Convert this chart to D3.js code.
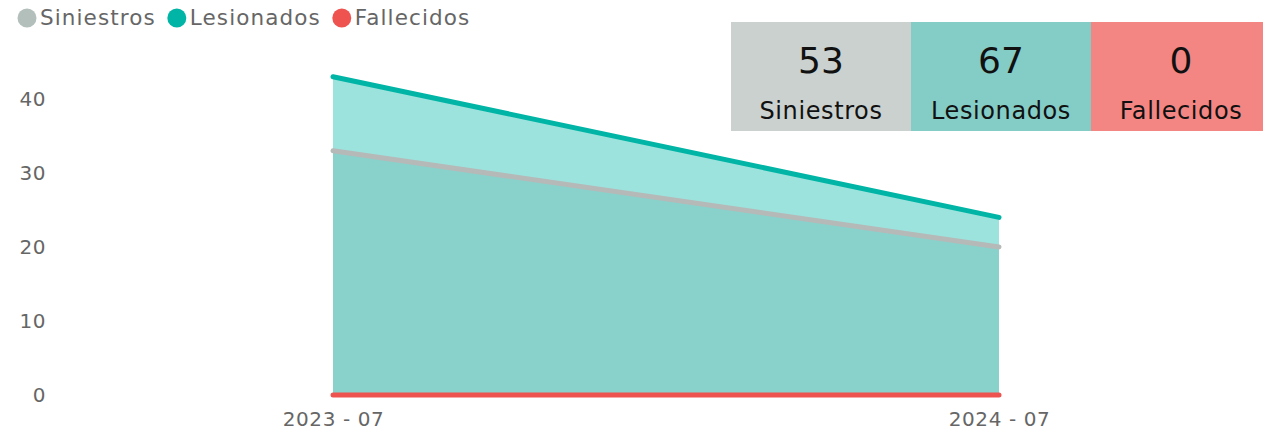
<!DOCTYPE html>
<html>
<head>
<meta charset="utf-8">
<script src="https://cdn.jsdelivr.net/npm/d3@7"></script>
<style>
  body { margin: 0; background: #fff; }
  svg { display: block; font-family: "DejaVu Sans", sans-serif; }
</style>
</head>
<body>
<svg id="chart" width="1263" height="434"></svg>
<script>
const periods = ['2023 - 07', '2024 - 07'];
const siniestros = [33, 20];
const lesionados = [43, 24];
const fallecidos = [0, 0];
const yTicks = [0, 10, 20, 30, 40];
const totals = [53, 67, 0];
const names = ['Siniestros', 'Lesionados', 'Fallecidos'];

const legendColors = ['#b3bfbb', '#00b5a5', '#ef5350'];
const cardColors = ['#cbd1cf', '#84ccc6', '#f38683'];

const svg = d3.select('#chart');

const x = d3.scalePoint().domain(periods).range([333, 999]);
const y = d3.scaleLinear().domain([0, 40]).range([395, 99]);

// y axis labels
const yAxis = svg.append('g')
  .attr('transform', 'translate(46,0)')
  .call(d3.axisLeft(y).tickValues(yTicks).tickSize(0).tickPadding(0));
yAxis.select('.domain').remove();
yAxis.selectAll('text')
  .attr('fill', '#666')
  .style('font-size', '20px')
  .style('letter-spacing', '0.5px')
  .style('font-family', '"DejaVu Sans", sans-serif');

// x axis labels
const xAxis = svg.append('g')
  .attr('transform', 'translate(0,408)')
  .call(d3.axisBottom(x).tickSize(0).tickPadding(0));
xAxis.select('.domain').remove();
xAxis.selectAll('text')
  .attr('fill', '#666')
  .attr('dy', '0.9em')
  .style('font-size', '20px')
  .style('letter-spacing', '0.6px')
  .style('font-family', '"DejaVu Sans", sans-serif');

const area = (vals) => d3.area()
  .x((d, i) => x(periods[i]))
  .y0(y(0))
  .y1((d) => y(d))(vals);

const line = (vals) => d3.line()
  .x((d, i) => x(periods[i]))
  .y((d) => y(d))(vals);

svg.append('path').attr('d', area(lesionados)).attr('fill', '#9de3dd');
svg.append('path').attr('d', area(siniestros)).attr('fill', '#89d2cb');

svg.append('path').attr('d', line(siniestros))
  .attr('fill', 'none').attr('stroke', '#b5b9b8').attr('stroke-width', 5).attr('stroke-linecap', 'round');
svg.append('path').attr('d', line(lesionados))
  .attr('fill', 'none').attr('stroke', '#00b5a5').attr('stroke-width', 5).attr('stroke-linecap', 'round');
svg.append('path').attr('d', line(fallecidos))
  .attr('fill', 'none').attr('stroke', '#ef5350').attr('stroke-width', 5).attr('stroke-linecap', 'round');

// legend
let lx = 27;
names.forEach((n, i) => {
  svg.append('circle').attr('cx', lx).attr('cy', 18).attr('r', 9.5).attr('fill', legendColors[i]);
  const t = svg.append('text')
    .attr('x', lx + 13).attr('y', 25)
    .attr('fill', '#666')
    .style('font-size', '21.5px')
    .style('letter-spacing', '1.1px')
    .text(n);
  lx += 13 + t.node().getBBox().width + 21;
});

// summary cards (last one runs past the right edge)
const cardX = d3.scaleBand().domain(names).range([731, 1271]);
const cards = svg.append('g').selectAll('g').data(names).join('g')
  .attr('transform', (d) => `translate(${cardX(d)},22)`);
cards.append('rect')
  .attr('width', cardX.bandwidth() + 0.5)
  .attr('height', 109)
  .attr('fill', (d, i) => cardColors[i]);
cards.append('text')
  .attr('x', cardX.bandwidth() / 2).attr('y', 51)
  .attr('text-anchor', 'middle')
  .attr('fill', '#111')
  .style('font-size', '36px')
  .text((d, i) => totals[i]);
cards.append('text')
  .attr('x', cardX.bandwidth() / 2).attr('y', 97)
  .attr('text-anchor', 'middle')
  .attr('fill', '#111')
  .style('font-size', '24px')
  .style('letter-spacing', '0.6px')
  .text((d) => d);
</script>
</body>
</html>
